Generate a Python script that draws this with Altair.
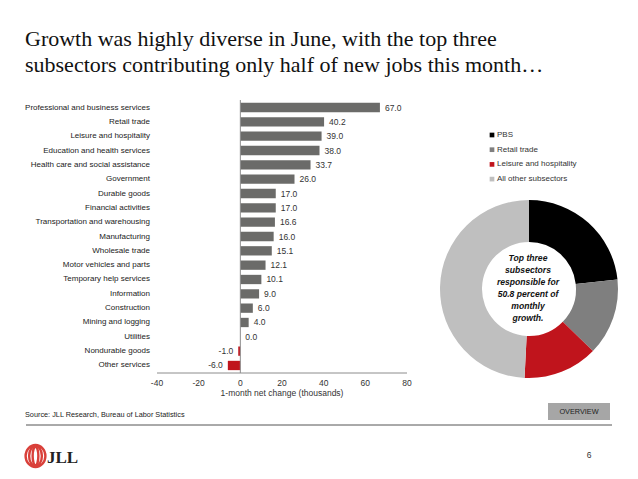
import altair as alt
import pandas as pd

# ---------------- data ----------------
categories = [
    "Professional and business services", "Retail trade", "Leisure and hospitality",
    "Education and health services", "Health care and social assistance", "Government",
    "Durable goods", "Financial activities", "Transportation and warehousing",
    "Manufacturing", "Wholesale trade", "Motor vehicles and parts",
    "Temporary help services", "Information", "Construction", "Mining and logging",
    "Utilities", "Nondurable goods", "Other services",
]
values = [67.0, 40.2, 39.0, 38.0, 33.7, 26.0, 17.0, 17.0, 16.6, 16.0,
          15.1, 12.1, 10.1, 9.0, 6.0, 4.0, 0.0, -1.0, -6.0]
x_ticks = [-40, -20, 0, 20, 40, 60, 80]

pie_labels = ["PBS", "Retail trade", "Leisure and hospitality", "All other subsectors"]
pie_values = [67.0, 40.2, 39.0, 141.6]

title_lines = [
    "Growth was highly diverse in June, with the top three",
    "subsectors contributing only half of new jobs this month\u2026",
]
center_lines = ["Top three", "subsectors", "responsible for", "50.8 percent of", "monthly", "growth."]
x_title = "1-month net change (thousands)"
source_text = "Source: JLL Research, Bureau of Labor Statistics"
button_text = "OVERVIEW"
page_number = "6"
logo_text = "JLL"

# ---------------- styles ----------------
SANS = "Liberation Sans, Arial, sans-serif"
SERIF = "Liberation Serif, Times New Roman, serif"
GRAY_BAR = "#6b6b69"
RED = "#c0141c"
pie_colors = ["#000000", "#7f7f7f", "#c0141c", "#bfbfbf"]
LOGO_RED = "#d9403a"

bars_df = pd.DataFrame({"cat": categories, "val": values})
pie_df = pd.DataFrame({"s": pie_labels, "v": pie_values, "o": list(range(len(pie_labels)))})
ticks_df = pd.DataFrame({"tick": x_ticks})

XSCALE = alt.Scale(domain=[-40, 80], range=[157, 407], nice=False, zero=False)
x_enc = alt.X("val:Q", scale=XSCALE, axis=None)
y_enc = alt.Y(
    "cat:N", sort=categories,
    scale=alt.Scale(range=[100, 373], paddingInner=0.35, paddingOuter=0.2),
    axis=None,
)

base = alt.Chart(bars_df)

bars = base.mark_bar().encode(
    x=x_enc,
    x2=alt.X2(datum=0),
    y=y_enc,
    color=alt.condition(alt.datum.val < 0, alt.value(RED), alt.value(GRAY_BAR)),
)

zero_line = alt.Chart(ticks_df).transform_filter(alt.datum.tick == 0).mark_rule(
    color="#8c8c8c", strokeWidth=1
).encode(
    x=alt.X("tick:Q", scale=XSCALE, axis=None),
    y=alt.value(100), y2=alt.value(373),
)

axis_line = alt.Chart(ticks_df).transform_aggregate(
    lo="min(tick)", hi="max(tick)"
).mark_rule(color="#8c8c8c", strokeWidth=1).encode(
    x=alt.X("lo:Q", scale=XSCALE, axis=None), x2="hi:Q", y=alt.value(373),
)

tick_labels = alt.Chart(ticks_df).transform_calculate(
    lab="toString(datum.tick)"
).mark_text(align="center", baseline="middle", font=SANS, fontSize=8.5, color="#333").encode(
    x=alt.X("tick:Q", scale=XSCALE, axis=None), y=alt.value(383), text="lab:N"
)

lab_calc = "replace(format(datum.val, '.1f'), '\u2212', '-')"
pos_labels = base.transform_filter(alt.datum.val >= 0).transform_calculate(lab=lab_calc).mark_text(
    align="left", baseline="middle", dx=5, font=SANS, fontSize=8.5, color="#333"
).encode(x=x_enc, y=y_enc, text="lab:N")

neg_labels = base.transform_filter(alt.datum.val < 0).transform_calculate(lab=lab_calc).mark_text(
    align="right", baseline="middle", dx=-5, font=SANS, fontSize=8.5, color="#333"
).encode(x=x_enc, y=y_enc, text="lab:N")

cat_labels = base.mark_text(
    align="right", baseline="middle", font=SANS, fontSize=8, color="#222"
).encode(x=alt.value(150), y=y_enc, text="cat:N")

pie = alt.Chart(pie_df).mark_arc(radius=89, radius2=47).encode(
    theta=alt.Theta("v:Q", stack=True),
    color=alt.Color("s:N", scale=alt.Scale(domain=pie_labels, range=pie_colors), legend=None),
    order=alt.Order("o:Q"),
    x=alt.value(529), y=alt.value(289),
)

layers = [bars, zero_line, axis_line, tick_labels, pos_labels, neg_labels, cat_labels, pie]


def text_layer(s, x, y, **kw):
    return alt.Chart(alt.Data(values=[{"t": s}])).mark_text(**kw).encode(
        x=alt.value(x), y=alt.value(y), text="t:N"
    )


# x axis title
layers.append(text_layer(x_title, 282, 393, align="center", baseline="middle", font=SANS,
                         fontSize=8.5, color="#333"))

# legend
for i, (lab, col) in enumerate(zip(pie_labels, pie_colors)):
    yy = 135 + i * 14.7
    layers.append(
        alt.Chart(alt.Data(values=[{"t": lab}])).mark_square(size=22, color=col, opacity=1).encode(
            x=alt.value(492), y=alt.value(yy)
        )
    )
    layers.append(text_layer(lab, 497, yy, align="left", baseline="middle", font=SANS,
                             fontSize=8, color="#333"))

# donut centre text
for i, line in enumerate(center_lines):
    layers.append(text_layer(line, 528, 258 + i * 12, align="center", baseline="middle",
                             font=SANS, fontSize=8.6, fontWeight="bold", fontStyle="italic",
                             color="#111"))

# title
for i, line in enumerate(title_lines):
    layers.append(text_layer(line, 25, 46 + i * 26, align="left", baseline="alphabetic",
                             font=SERIF, fontSize=22, color="#111"))

# footer
layers.append(text_layer(source_text, 25, 415, align="left", baseline="middle", font=SANS,
                         fontSize=7.3, color="#222"))
layers.append(
    alt.Chart(alt.Data(values=[{"t": button_text}])).mark_rect(color="#a6a6a6").encode(
        x=alt.value(548), x2=alt.value(610), y=alt.value(403), y2=alt.value(420)
    )
)
layers.append(text_layer(button_text, 579, 411.5, align="center", baseline="middle", font=SANS,
                         fontSize=7.3, color="#222"))
layers.append(
    alt.Chart(alt.Data(values=[{"t": ""}])).mark_rule(color="#555", strokeWidth=1).encode(
        x=alt.value(26), x2=alt.value(612), y=alt.value(425)
    )
)

# logo: concentric red ovals + "JLL"
ring_paths = [
    "M -0.9,0 A 0.9,1 0 1,0 0.9,0 A 0.9,1 0 1,0 -0.9,0 Z",
    "M -0.58,0 A 0.58,0.92 0 1,0 0.58,0 A 0.58,0.92 0 1,0 -0.58,0 Z",
    "M -0.26,0 A 0.26,0.84 0 1,0 0.26,0 A 0.26,0.84 0 1,0 -0.26,0 Z",
]
for p in ring_paths:
    layers.append(
        alt.Chart(alt.Data(values=[{"t": logo_text}])).mark_point(
            shape=p, size=484, filled=False, stroke=LOGO_RED, strokeWidth=2.4, opacity=1
        ).encode(x=alt.value(35.5), y=alt.value(456))
    )
layers.append(text_layer(logo_text, 47, 462.5, align="left", baseline="alphabetic", font=SERIF,
                         fontSize=17, fontWeight="bold", color="#222"))
layers.append(text_layer(page_number, 589, 455, align="center", baseline="middle", font=SANS,
                         fontSize=8.5, color="#333"))

chart = alt.layer(*layers).properties(
    width=638, height=479, autosize=alt.AutoSizeParams(type="none"), padding=0,
    background="#ffffff",
).configure_view(stroke=None)

chart.save("out.html", embed_options={"renderer": "svg", "actions": False})
